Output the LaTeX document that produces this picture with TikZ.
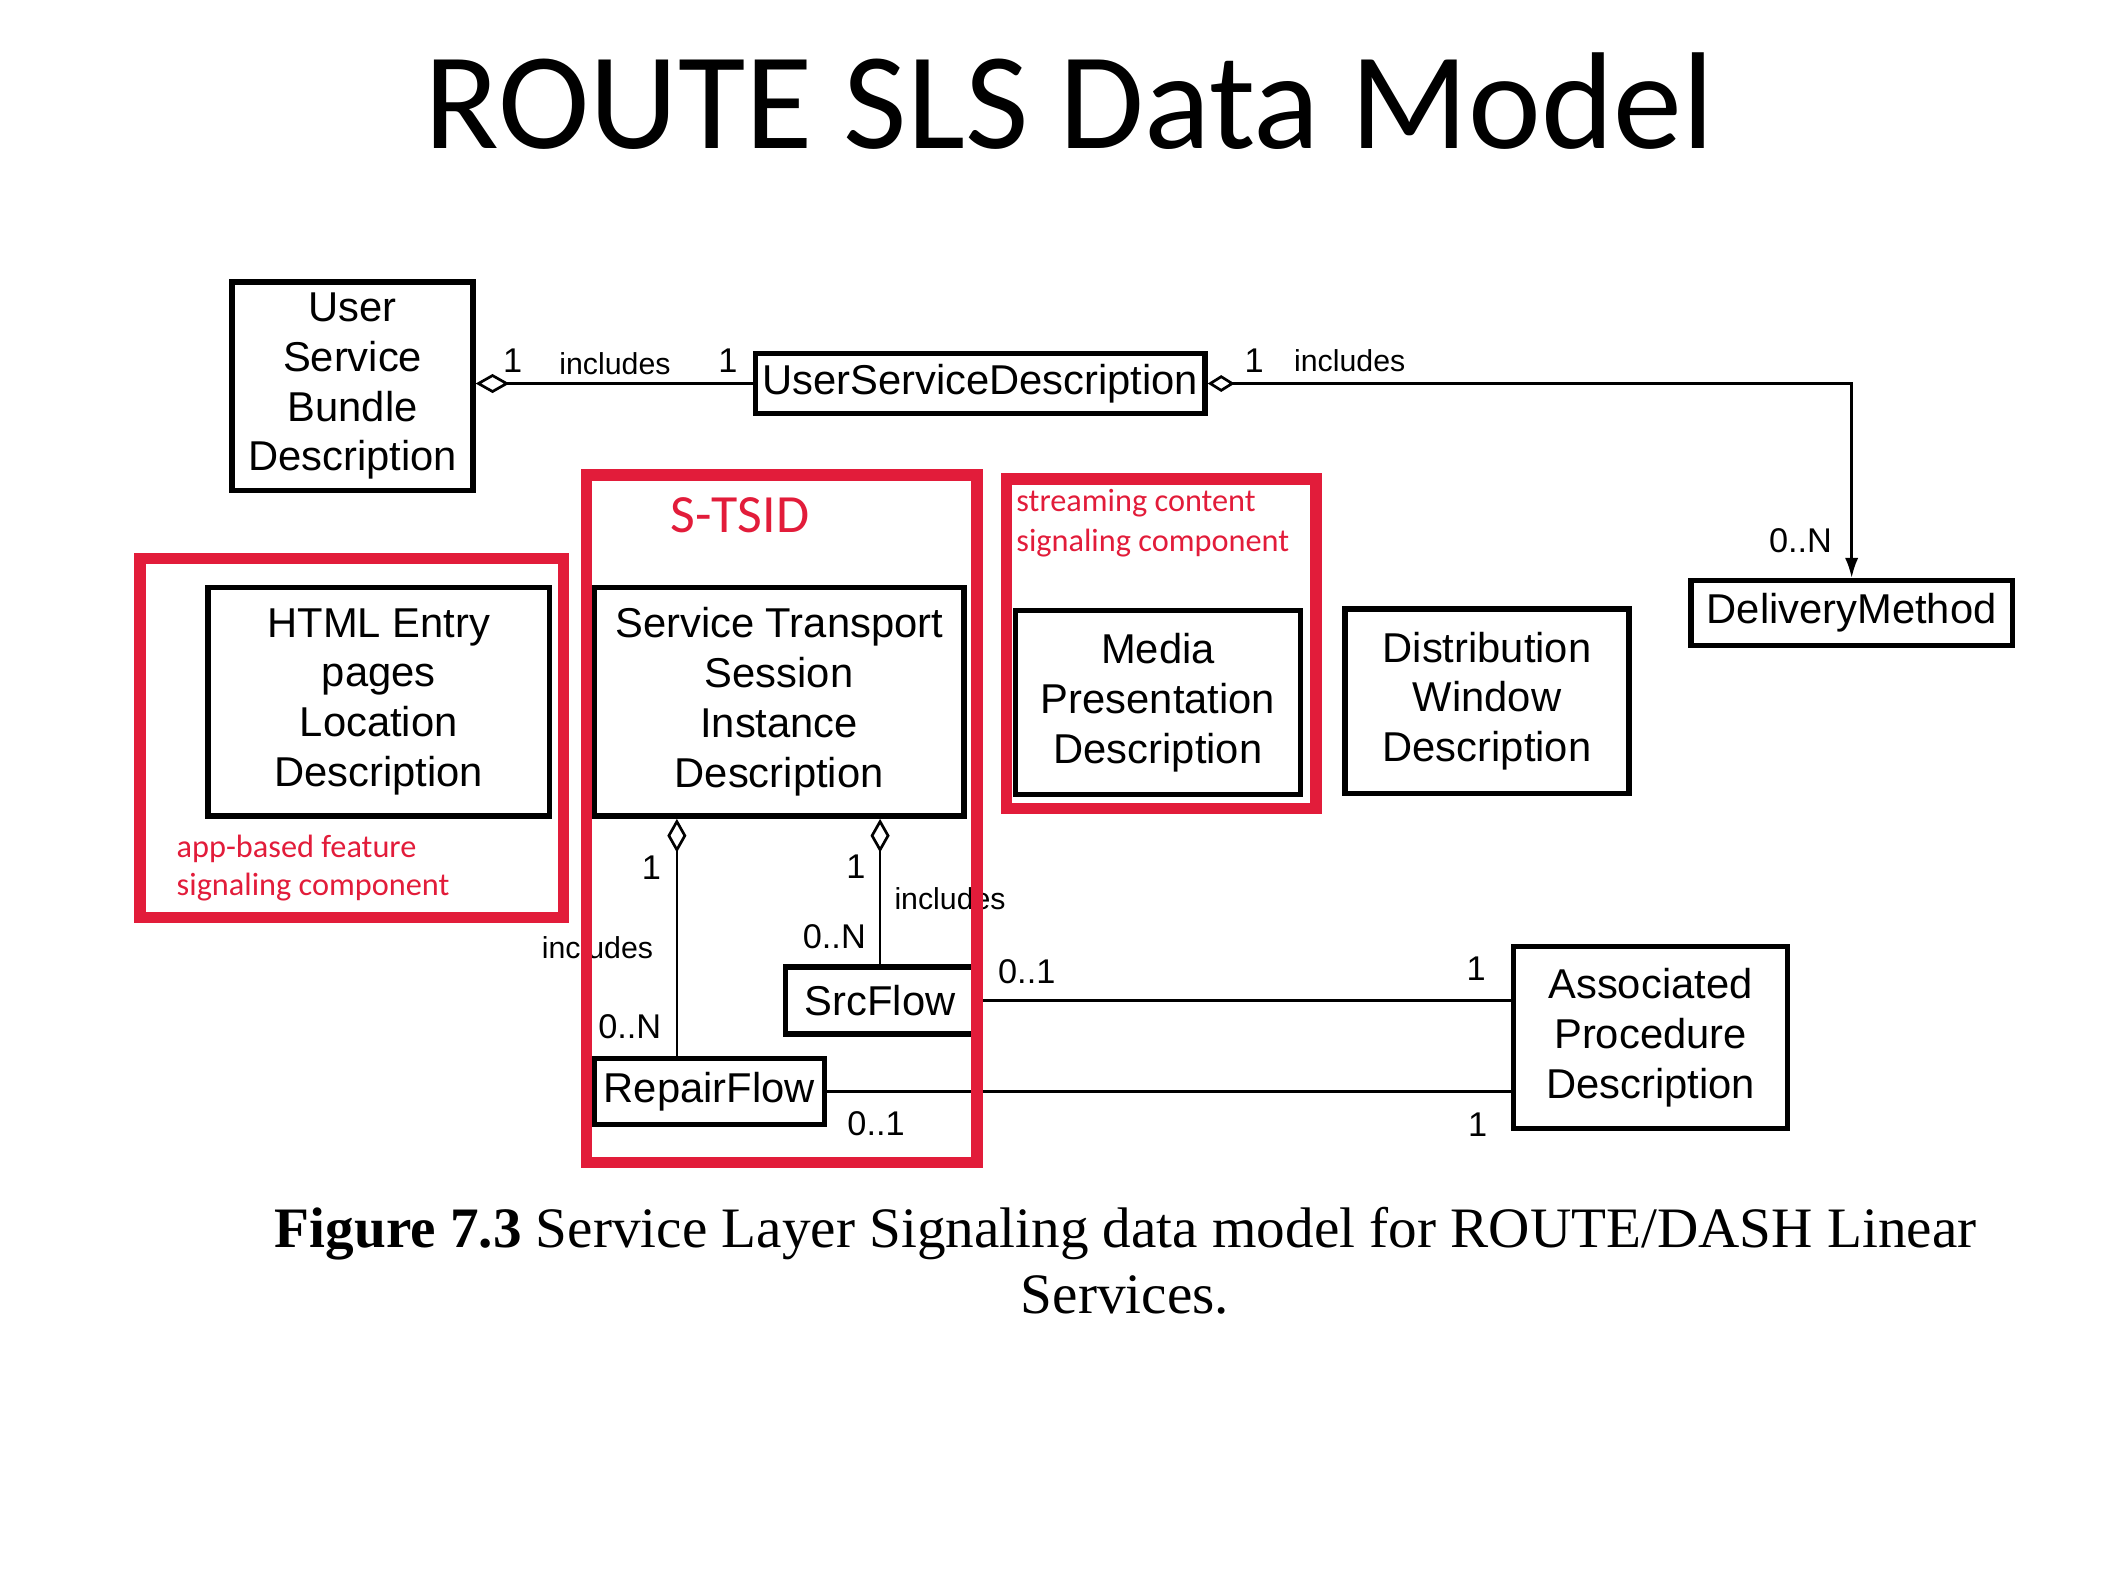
\documentclass[tikz,border=0pt]{standalone}
\usepackage{fontspec}
\usetikzlibrary{arrows.meta,calc}
\newfontfamily\arialf{Liberation Sans}
\newfontfamily\calf{Carlito}
\newfontfamily\timesf{Liberation Serif}
\definecolor{redf}{HTML}{E21C3A}
\begin{document}
\begin{tikzpicture}[x=0.6pt,y=-0.6pt,
 bx/.style args={#1/#2}{draw, line width=2.4pt, minimum width=#1*0.6pt, minimum height=#2*0.6pt, inner sep=0pt, align=center, font=\arialf\fontsize{18.6}{22.2}\selectfont},
 num/.style={inner sep=0pt, font=\arialf\fontsize{15.3}{18}\selectfont},
 inc/.style={inner sep=0pt, font=\arialf\fontsize{13.5}{16}\selectfont},
 rframe/.style={draw=redf, line width=5pt, inner sep=0pt},
 rtxt/.style={inner sep=0pt, text=redf, align=left, font=\calf\fontsize{14.4}{18}\selectfont},
 conn/.style={line width=1.2pt},
 agg/.style={conn, {Diamond[open,length=15pt,width=8.5pt]}-},
]
\useasboundingbox (0,0) rectangle (1568,1168);
\node[inner sep=0pt, anchor=base, font=\calf\fontsize{61.5}{70}\selectfont] (title) at (795,110) {ROUTE SLS Data Model};

% boxes
\node[bx=179/155] (USBD) at (262,287) {User\\Service\\Bundle\\Description};
\node[bx=334/45] (USD) at (728.5,285) {UserServiceDescription};
\node[bx=239/48] (DM) at (1376,455.5) {DeliveryMethod};
\node[bx=211/137] (DWD) at (1105,521) {Distribution\\Window\\Description};
\node[bx=212/137] (MPD) at (860.5,522) {Media\\Presentation\\Description};
\node[bx=275/170] (STSID) at (579,521.5) {Service Transport\\Session\\Instance\\Description};
\node[bx=254/170] (HTML) at (281.5,521.5) {HTML Entry\\pages\\Location\\Description};
\node[bx=141/50] (SrcFlow) at (654,743.5) {SrcFlow};
\node[bx=171/49] (RepairFlow) at (527,811) {RepairFlow};
\node[bx=204/135] (APD) at (1226.5,771) {Associated\\Procedure\\Description};

% connectors
\draw[agg] (USBD.east |- USD.west) -- (USD.west);
\draw[conn, {Diamond[open,length=12pt,width=7.5pt]}-{Latex[length=9pt,width=6pt]}] (USD.east) -| (DM.north);
\coordinate (rf1) at ($(RepairFlow.north)+(-24,0)$);
\draw[agg] (rf1 |- STSID.south) -- (rf1);
\draw[agg] (SrcFlow.north |- STSID.south) -- (SrcFlow.north);
\draw[conn] (SrcFlow.east) -- (SrcFlow.east -| APD.west);
\draw[conn] (RepairFlow.east) -- (RepairFlow.east -| APD.west);

% labels
\node[num] (l1) at (381,268) {1};
\node[inc] (l2) at (457,270) {includes};
\node[num] (l3) at (541,268) {1};
\node[num] (l4) at (932,268) {1};
\node[inc] (l5) at (1003,268) {includes};
\node[num] (l6) at (1338,402) {0..N};
\node[num] (l7) at (484,645) {1};
\node[inc] (l8) at (444,704) {includes};
\node[num] (l9) at (468,763) {0..N};
\node[num] (l10) at (636,644) {1};
\node[inc] (l11) at (706,668) {includes};
\node[num] (l12) at (620,696) {0..N};
\node[num] (l13) at (763,722) {0..1};
\node[num] (l14) at (1097,720) {1};
\node[num] (l15) at (651,835) {0..1};
\node[num] (l16) at (1098,836) {1};

% red frames
\node[rframe, minimum width=315*0.6pt, minimum height=267*0.6pt] (appF) at (261.5,548.5) {};
\node[rframe, minimum width=290*0.6pt, minimum height=511*0.6pt] (stsidF) at (581,608.5) {};
\node[rframe, minimum width=230*0.6pt, minimum height=245*0.6pt] (strF) at (863,478.5) {};

\node[rtxt, font=\calf\fontsize{24}{28}\selectfont] (stsidlbl) at (550,383) {S-TSID};
\node[rtxt, anchor=west] (strlbl) at (755,389) {streaming content\\signaling component};
\node[rtxt, anchor=west, font=\calf\fontsize{14.4}{16.8}\selectfont] (applbl) at (131,645) {app-based feature\\signaling component};

% caption
\node[inner sep=0pt, anchor=base, font=\timesf\fontsize{25.5}{30}\selectfont] (cap1) at (836.5,927) {\textbf{Figure 7.3} Service Layer Signaling data model for ROUTE/DASH Linear};
\node[inner sep=0pt, anchor=base, font=\timesf\fontsize{25.5}{30}\selectfont] (cap2) at (836,976) {Services.};
\end{tikzpicture}
\end{document}
